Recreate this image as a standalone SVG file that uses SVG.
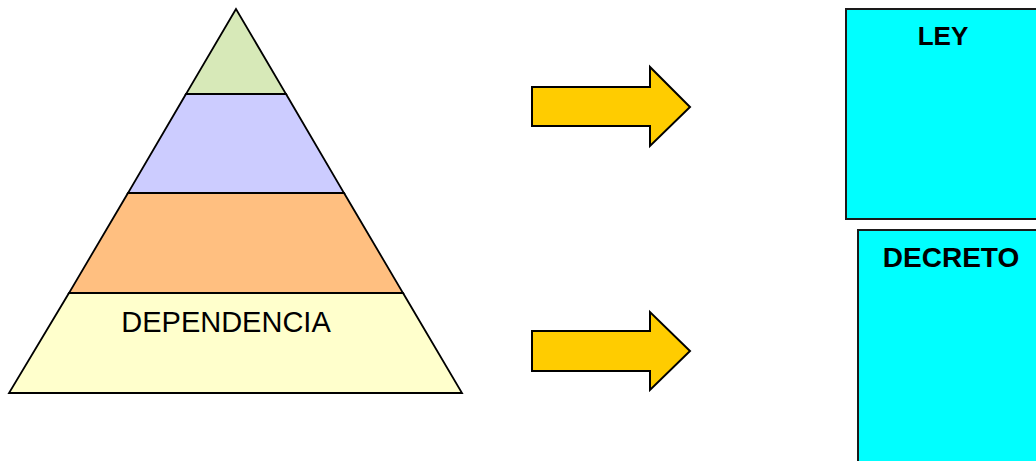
<svg xmlns="http://www.w3.org/2000/svg" width="1036" height="461" viewBox="0 0 1036 461">
<style>
.l{stroke:#000;stroke-width:1.8;stroke-linejoin:miter}
.arrow{fill:#ffcc00;stroke:#000;stroke-width:2}
.box{fill:#00ffff;stroke:#1a1a1a;stroke-width:2}
.t{font-family:"Liberation Sans",Arial,sans-serif;fill:#000;text-anchor:middle}
</style>
<rect width="1036" height="461" fill="#fff"/>
<g id="pyramid">
<polygon class="l" fill="#d7e9b8" points="236,9 186,94 286,94"/>
<polygon class="l" fill="#ccccff" points="186,94 286,94 344,193 128,193"/>
<polygon class="l" fill="#ffbf80" points="128,193 344,193 403,293 69,293"/>
<polygon class="l" fill="#ffffcc" points="69,293 403,293 462,393 9,393"/>
<text class="t" x="226" y="332" font-size="29">DEPENDENCIA</text>
</g>
<g id="connectors">
<polygon class="arrow" points="532,87 650,87 650,67 690,107 650,146 650,126 532,126"/>
<polygon class="arrow" points="532,331 650,331 650,312 690,351 650,390 650,371 532,371"/>
</g>
<g id="ley">
<rect class="box" x="846" y="9" width="200" height="210"/>
<text class="t" x="943" y="45" font-size="26" font-weight="bold">LEY</text>
</g>
<g id="decreto">
<rect class="box" x="858" y="230" width="190" height="250"/>
<text class="t" x="951" y="267" font-size="28" font-weight="bold">DECRETO</text>
</g>
</svg>
